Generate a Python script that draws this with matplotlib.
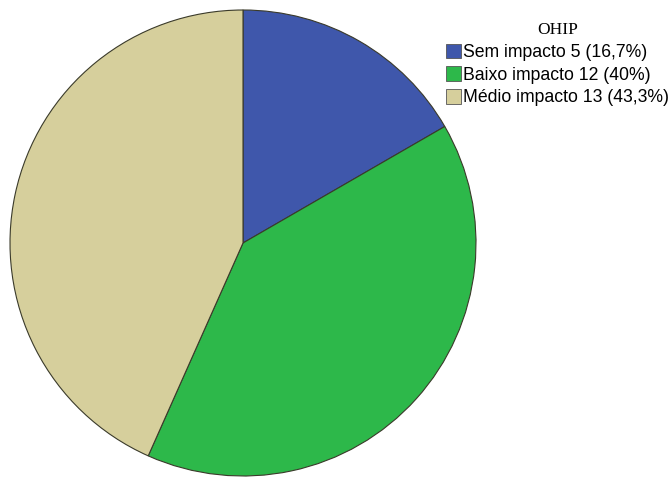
import matplotlib.pyplot as plt
from matplotlib.patches import Patch

categories = ["Sem impacto", "Baixo impacto", "Médio impacto"]
counts = [5, 12, 13]
percents = ["16,7%", "40%", "43,3%"]
colors = ["#3F57AB", "#2DB84A", "#D6CF9C"]

W, H = 672, 482
fig = plt.figure(figsize=(W / 100, H / 100), dpi=100)

cx, cy, r = 243, 243, 233
ax = fig.add_axes([(cx - r) / W, (H - cy - r) / H, 2 * r / W, 2 * r / H])
ax.pie(counts, colors=colors, startangle=90, counterclock=False,
       wedgeprops=dict(edgecolor="#3a3a2a", linewidth=0.8), radius=1)
ax.set_xlim(-1, 1)
ax.set_ylim(-1, 1)
ax.set_aspect("equal")
ax.axis("off")

labels = [f"{c} {n} ({p})" for c, n, p in zip(categories, counts, percents)]
handles = [Patch(facecolor=col, edgecolor="#555555", linewidth=0.6) for col in colors]
leg = fig.legend(handles, labels, loc="upper left", bbox_to_anchor=(434 / W, 1 - 10 / H),
                 frameon=False, title="OHIP",
                 prop={"family": "Liberation Sans", "size": 12.7},
                 title_fontproperties={"family": "Liberation Serif", "size": 12.5},
                 handlelength=0.85, handleheight=0.9, handletextpad=0.1,
                 labelspacing=0.3, borderpad=0.2)

fig.savefig("out.png", dpi=100)
